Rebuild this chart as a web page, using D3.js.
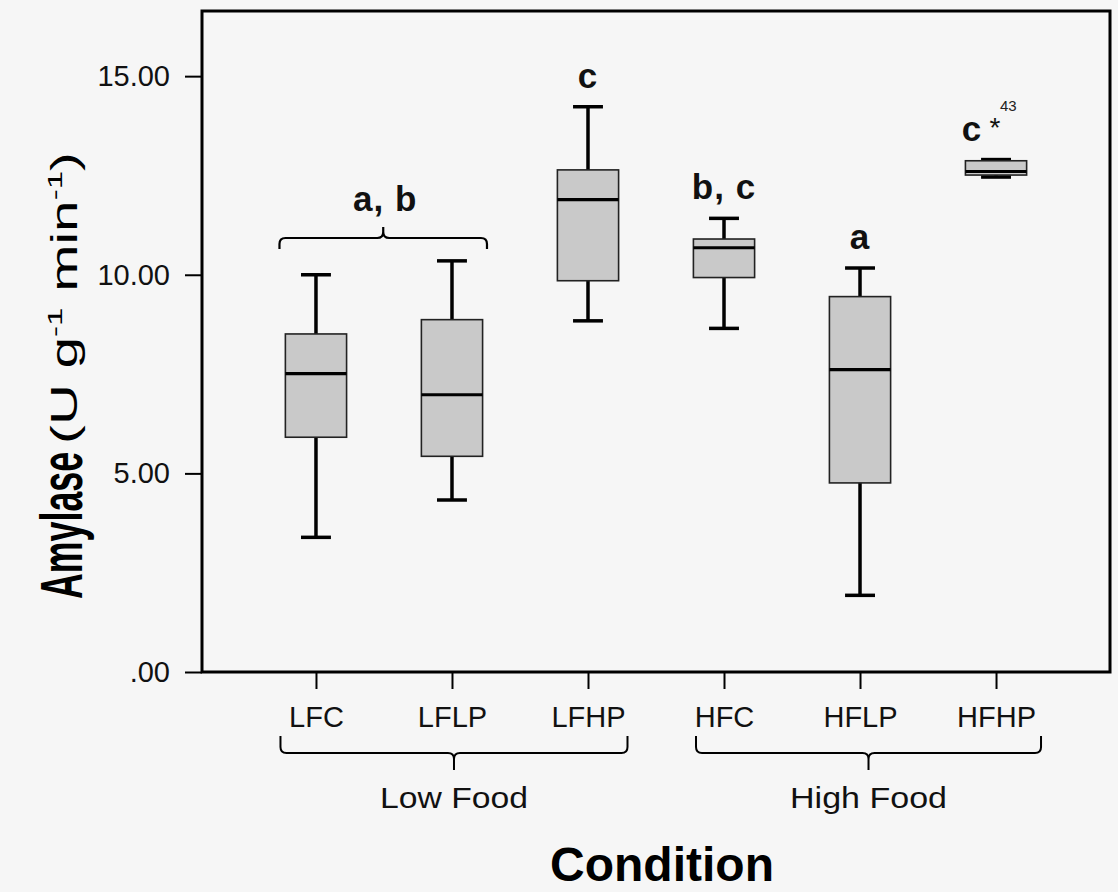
<!DOCTYPE html>
<html>
<head>
<meta charset="utf-8">
<script src="https://cdn.jsdelivr.net/npm/d3@7"></script>
<style>
  body { margin: 0; background: #f6f6f6; }
  svg { display: block; font-family: 'Liberation Sans', Arial, sans-serif; }
</style>
</head>
<body>
<div class="chart-container"></div>
<script>
const w = 1118,
      h = 892;
const plot = { left: 202, top: 11, right: 1110, bottom: 672 };

// values
const conditions = ['LFC', 'LFLP', 'LFHP', 'HFC', 'HFLP', 'HFHP'];
const whiskerLow = [3.39, 4.33, 8.84, 8.65, 1.93, 12.46];
const q1 = [5.91, 5.43, 9.85, 9.93, 4.76, 12.51];
const median = [7.51, 6.98, 11.89, 10.68, 7.61, 12.60];
const q3 = [8.51, 8.87, 12.64, 10.90, 9.45, 12.87];
const whiskerHigh = [10.00, 10.35, 14.23, 11.42, 10.17, 12.90];

const yTicks = [0, 5, 10, 15];
const yTickLabels = ['.00', '5.00', '10.00', '15.00'];

const groups = ['Low Food', 'High Food'];
const groupFirst = ['LFC', 'HFC'];
const groupLast = ['LFHP', 'HFHP'];

const letterConds = ['LFHP', 'HFC', 'HFLP', 'HFHP'];
const letterTexts = ['c', 'b, c', 'a', 'c'];
const pairLabel = 'a, b';
const pairConds = ['LFC', 'LFLP'];

const data = conditions.map((c, i) => ({
  name: c,
  lo: whiskerLow[i],
  q1: q1[i],
  med: median[i],
  q3: q3[i],
  hi: whiskerHigh[i]
}));

const svg = d3.select('.chart-container')
  .append('svg')
  .attr('width', w)
  .attr('height', h);

svg.append('rect')
  .attr('width', w)
  .attr('height', h)
  .attr('fill', '#f6f6f6');

const x = d3.scalePoint()
  .domain(conditions)
  .range([plot.left, plot.right])
  .padding(0.838);

const y = d3.scaleLinear()
  .domain([0, 16.64])
  .range([plot.bottom, plot.top]);

const boxW = x.step() * 0.45;
const capW = x.step() * 0.22;

// axes
const yAxis = d3.axisLeft(y)
  .tickValues(yTicks)
  .tickSize(17)
  .tickPadding(15)
  .tickFormat((d, i) => yTickLabels[i]);

svg.append('g')
  .attr('id', 'y-axis')
  .attr('transform', `translate(${plot.left}, 0)`)
  .call(yAxis)
  .call(g => g.select('.domain').remove())
  .call(g => g.selectAll('line').attr('stroke', '#000').attr('stroke-width', 2))
  .call(g => g.selectAll('text')
    .attr('fill', '#111')
    .style('font-size', '29px')
    .style('font-family', "'Liberation Sans', Arial, sans-serif"));

const xAxis = d3.axisBottom(x)
  .tickSize(17)
  .tickPadding(17);

svg.append('g')
  .attr('id', 'x-axis')
  .attr('transform', `translate(0, ${plot.bottom})`)
  .call(xAxis)
  .call(g => g.select('.domain').remove())
  .call(g => g.selectAll('line').attr('stroke', '#000').attr('stroke-width', 2))
  .call(g => g.selectAll('text')
    .attr('fill', '#111')
    .style('font-size', '29px')
    .style('font-family', "'Liberation Sans', Arial, sans-serif"));

// frame
svg.append('rect')
  .attr('x', plot.left)
  .attr('y', plot.top)
  .attr('width', plot.right - plot.left)
  .attr('height', plot.bottom - plot.top)
  .attr('fill', 'none')
  .attr('stroke', '#000')
  .attr('stroke-width', 3);

// boxes
const box = svg.selectAll('.box')
  .data(data)
  .enter()
  .append('g')
  .attr('class', 'box');

box.append('line')
  .attr('x1', d => x(d.name))
  .attr('x2', d => x(d.name))
  .attr('y1', d => y(d.lo))
  .attr('y2', d => y(d.hi))
  .attr('stroke', '#000')
  .attr('stroke-width', 3.5);

box.selectAll('.cap')
  .data(d => [{ name: d.name, v: d.lo }, { name: d.name, v: d.hi }])
  .enter()
  .append('line')
  .attr('class', 'cap')
  .attr('x1', d => x(d.name) - capW / 2)
  .attr('x2', d => x(d.name) + capW / 2)
  .attr('y1', d => y(d.v))
  .attr('y2', d => y(d.v))
  .attr('stroke', '#000')
  .attr('stroke-width', 3.5);

box.append('rect')
  .attr('x', d => x(d.name) - boxW / 2)
  .attr('y', d => y(d.q3))
  .attr('width', boxW)
  .attr('height', d => y(d.q1) - y(d.q3))
  .attr('fill', '#c9c9c9')
  .attr('stroke', '#222')
  .attr('stroke-width', 1.6);

box.append('line')
  .attr('x1', d => x(d.name) - boxW / 2)
  .attr('x2', d => x(d.name) + boxW / 2)
  .attr('y1', d => y(d.med))
  .attr('y2', d => y(d.med))
  .attr('stroke', '#000')
  .attr('stroke-width', 3.2);

// curly braces
function brace(x0, x1, yEnds, yLine, yTip) {
  const r = 6;
  const s = yEnds > yLine ? 1 : -1;
  const xc = (x0 + x1) / 2;
  return `M${x0},${yEnds} L${x0},${yLine + s * r} Q${x0},${yLine} ${x0 + r},${yLine} ` +
    `L${xc - r},${yLine} Q${xc},${yLine} ${xc},${yLine - s * r} L${xc},${yTip} ` +
    `M${xc},${yLine - s * r} Q${xc},${yLine} ${xc + r},${yLine} ` +
    `L${x1 - r},${yLine} Q${x1},${yLine} ${x1},${yLine + s * r} L${x1},${yEnds}`;
}

const letterFont = '35px';

// "a, b" over the first two boxes
const pairX0 = x(pairConds[0]) - 36.5;
const pairX1 = x(pairConds[1]) + 35;
svg.append('path')
  .attr('d', brace(pairX0, pairX1, 249, 238, 227))
  .attr('fill', 'none')
  .attr('stroke', '#000')
  .attr('stroke-width', 2.2);

svg.append('text')
  .attr('x', (pairX0 + pairX1) / 2 + 2)
  .attr('y', 211)
  .attr('text-anchor', 'middle')
  .style('font-size', letterFont)
  .style('font-weight', 'bold')
  .style('letter-spacing', '1px')
  .attr('fill', '#111')
  .text(pairLabel);

svg.selectAll('.letter')
  .data(letterConds)
  .enter()
  .append('text')
  .attr('class', 'letter')
  .attr('x', d => x(d) + (d === 'HFHP' ? -24 : 0))
  .attr('y', d => y(data[conditions.indexOf(d)].hi) - 19)
  .attr('text-anchor', 'middle')
  .style('font-size', letterFont)
  .style('font-weight', 'bold')
  .style('letter-spacing', '1px')
  .attr('fill', '#111')
  .text((d, i) => letterTexts[i]);

// asterisk and case number next to HFHP
svg.append('text')
  .attr('x', x('HFHP') - 1)
  .attr('y', 137)
  .attr('text-anchor', 'middle')
  .style('font-size', '28px')
  .attr('fill', '#111')
  .text('*');

svg.append('text')
  .attr('x', x('HFHP') + 4)
  .attr('y', 111)
  .style('font-size', '15px')
  .attr('fill', '#222')
  .text('43');

// group braces under the axis
const groupX0 = [x(groupFirst[0]) - 35.5, x(groupFirst[1]) - 28];
const groupX1 = [x(groupLast[0]) + 39.5, x(groupLast[1]) + 45];

groups.forEach((g, i) => {
  svg.append('path')
    .attr('d', brace(groupX0[i], groupX1[i], 736, 753, 770))
    .attr('fill', 'none')
    .attr('stroke', '#000')
    .attr('stroke-width', 2);

  svg.append('text')
    .attr('x', (groupX0[i] + groupX1[i]) / 2)
    .attr('y', 808)
    .attr('text-anchor', 'middle')
    .style('font-size', '30px')
    .attr('textLength', i === 0 ? 148 : 157)
    .attr('lengthAdjust', 'spacingAndGlyphs')
    .attr('fill', '#111')
    .text(g);
});

// axis titles
svg.append('text')
  .attr('x', 662)
  .attr('y', 881)
  .attr('text-anchor', 'middle')
  .style('font-size', '48px')
  .style('font-weight', 'bold')
  .attr('fill', '#000')
  .text('Condition');

svg.append('text')
  .attr('transform', 'translate(82, 599) rotate(-90)')
  .style('font-size', '60px')
  .style('font-weight', 'bold')
  .attr('textLength', 147)
  .attr('lengthAdjust', 'spacingAndGlyphs')
  .attr('fill', '#000')
  .text('Amylase');

const unit = svg.append('text')
  .attr('transform', 'translate(77, 444) rotate(-90)')
  .style('font-size', '36px')
  .attr('textLength', 292)
  .attr('lengthAdjust', 'spacingAndGlyphs')
  .attr('fill', '#000');

unit.append('tspan').text('(U g');
unit.append('tspan').attr('dy', -15).style('font-size', '21px').text('-1');
unit.append('tspan').attr('dy', 15).text(' min');
unit.append('tspan').attr('dy', -15).style('font-size', '21px').text('-1');
unit.append('tspan').attr('dy', 15).text(')');
</script>
</body>
</html>
